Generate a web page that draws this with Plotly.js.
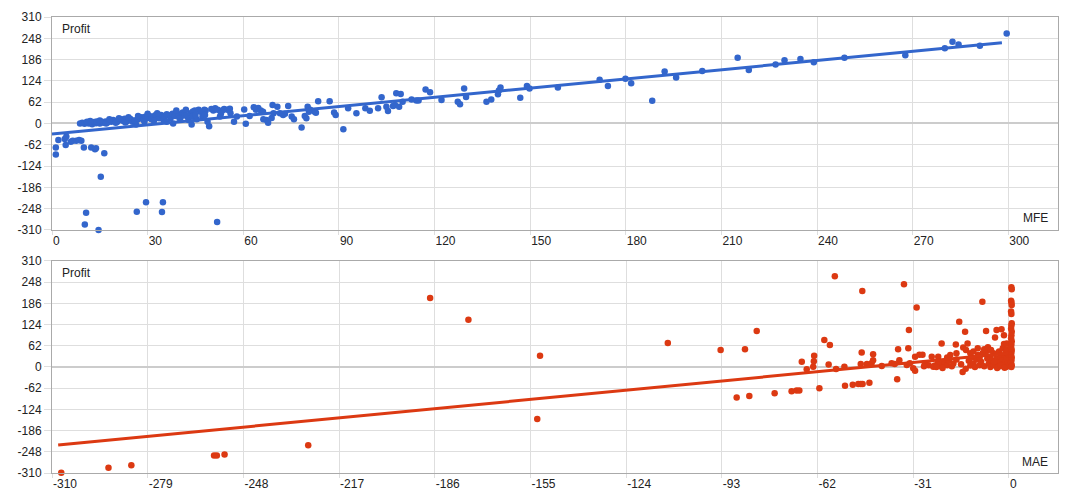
<!DOCTYPE html>
<html>
<head>
<meta charset="utf-8">
<script src="https://cdn.plot.ly/plotly-3.0.1.min.js"></script>
<style>
  html, body { margin: 0; padding: 0; background: #fff; }
  #chart { width: 1075px; height: 500px; }
</style>
</head>
<body>
<div id="chart"></div>
<script>
// MFE vs Profit (top panel)
var mfeValue = [
  1.2, 1.2, 2, 4, 4.5, 4.3, 5.9, 6.5, 7.6, 8.5, 9.2, 10, 12.3, 13.5, 13.8, 16.4, 15.3, 10.7, 10.3, 14.6,
  26.6, 29.5, 34.8, 34.5, 51.8,
  8.8, 9.5, 10.2, 10.8, 11.5, 12, 12.6, 13.2, 13.8, 14.5, 15, 15.6, 16.2, 16.8, 17.4, 18, 18.6, 19.2, 19.8, 20.4,
  21, 21.6, 22.2, 22.8, 23.4, 24, 24.6, 25.2, 25.8, 26.4, 27, 27.6, 28.2, 28.8, 29.4, 30, 30.6, 31.2, 31.8, 32.4,
  33, 33.6, 34.2, 34.8, 35.4, 36, 36.6, 37.2, 37.8, 38, 38.6, 39.2, 39.8, 40.4, 41, 41.6, 42.2, 42.8, 43.4, 43.8,
  44.2, 44.8, 45.4, 46, 46.6, 47.2, 47.8, 48.2, 48.8, 49.3, 50, 50.6, 51.2, 52, 52.7, 53.4, 54, 55, 55.8, 57.1,
  58, 60.3, 60.8,
  11, 14, 17, 20, 23, 26, 29, 32, 35, 36, 40, 44, 48, 53, 56, 45, 42, 39, 33, 30, 27, 24, 21, 18, 15, 12,
  62, 63.3, 64, 64.7, 65.5, 66.2, 66.3, 67.3, 67.8, 68.9, 69.2, 69.5, 70.7, 71.5, 72.5, 73.1, 74.1, 75.2, 75.9, 78.3,
  79.3, 79.8, 80.2, 80.6, 81, 82.4, 82.8, 83.5, 87.1, 88.5, 89, 91.4, 92.9, 95.5, 98.3, 99.7, 102.3, 103.4, 104.9, 105.4,
  107, 107.6, 108, 108.9, 109.4, 110, 112.8, 114.3, 115, 117.2, 118.6, 122.2, 127.3, 128, 129.3, 129.9, 136.3, 137.8, 139.9, 140.2,
  140.7, 146.9, 149, 149.8, 158.7, 171.8, 174.4, 179.9, 181.7, 188.3, 192.2, 195.8, 204, 215.1, 218.6, 227, 229.8, 234.8, 239, 248.6,
  267.7, 280.1, 282.5, 284.4, 291.1, 299.5
];
var mfeProfit = [
  -70, -90, -48, -45, -38, -63, -53, -50, -50, -48, -50, -70, -70, -75, -72, -87, -155, -260, -294, -310,
  -257, -229, -229, -258, -287,
  0, 2, -1, 3, 0, 2, -2, 4, 1, 3, 0, 5, 2, 6, 3, 8, 5, 10, 7, 4,
  10, 12, 8, 14, 6, 10, 13, 5, 9, -3, 12, 15, 18, 10, 20, 16, 22, 12, 20, 24,
  18, 15, 25, 22, 20, 27, 24, 15, 28, 0, 22, 30, 26, 18, 32, 28, 22, 10, 30, -3,
  35, 38, 12, 40, 34, 20, 40, 38, 5, -8, 42, 38, 44, 40, 20, 38, 42, 40, 43, 5,
  20, 41, -1,
  5, 6, 0, 2, 3, 8, 6, 8, 10, 5, 15, 20, 25, 28, 30, 25, 40, 38, 30, 28, 22, 18, 15, 12, 9, 7,
  22, 47, 40, 45, 38, 34, 12, 10, 2, 16, 54, 30, 49, 30, 25, 28, 51, 20, 12, -12,
  22, 15, 49, 34, 40, 34, 31, 65, 65, 32, 25, -17, 44, 30, 44, 37, 44, 76, 49, 36,
  51, 54, 88, 49, 86, 63, 70, 67, 67, 99, 91, 68, 63, 56, 102, 77, 63, 70, 85, 96,
  105, 75, 109, 102, 105, 127, 109, 130, 117, 66, 151, 134, 153, 191, 156, 172, 184, 188, 178, 191,
  199, 219, 238, 230, 226, 262
];
var mfeTrendX = [0, 298];
var mfeTrendY = [-31, 235];

// MAE vs Profit (bottom panel)
var maeValue = [
  -307, -291.7, -284.3, -257.5, -256.6, -254.1, -227, -187.5, -175.1, -151.9, -152.8, -110.5,
  -93.4, -88.2, -85.5, -84.1, -81.7, -75.9, -70.4, -68.8, -67.9, -67.1, -65.5, -63.4, -63.2, -63.1, -61.4, -59.8,
  -58, -58.4, -56.4, -56, -53.3, -53.1, -50.6, -48.8, -48, -47.4, -47.7, -47.5, -48, -45.2, -46, -44.5, -44, -44,
  -41.2, -38, -37, -36.2, -35.9, -35.5, -34, -33.1, -32.1, -32.6, -32.4, -31, -30.4, -30.4, -29.9, -29, -28, -27.2, -25,
  -22.9, -21.8, -22.5, -22, -21, -20, -19.5, -18.5, -18, -17.2, -17, -16.1, -15, -14.8, -14.2, -13.9, -13.4, -13,
  -12.5, -12, -11.5, -11, -10.5, -10.1, -10, -9.5, -9, -8.6, -8.5, -8, -7.4, -7.2, -7, -6.5, -6, -6, -5.5, -5, -5,
  -4.5, -4, -4, -3.5, -3.2, -3, -2.8, -2.4, -2.2, -2, -1.8, -1.6, -1.6, -1.5, -1.2, -1, -1, -0.8, -0.7, -0.5, -0.3, -0.2,
  -24, -23, -20, -19, -17, -15.5, -14, -12.5, -11.5, -9.5, -8, -6.8, -5.8, -4.8, -3.8, -2.6, -1.4, -0.6, -26, -27.5, -24.5, -23.5, -21.5,
  0.8, 0.9, 0.7, 0.8, 0.9, 0.7, 0.8, 0.9, 0.8, 0.7, 0.9, 0.8, 0.7, 0.9, 0.8, 0.7, 0.9, 0.8, 0.7, 0.9, 0.8, 0.7, 0.9, 0.8
];
var maeProfit = [
  -309, -295, -287, -259, -259, -256, -229, 202, 138, 33, -152, 70,
  50, -89, 52, -85, 105, -77, -71, -69, -69, 15, -7, 1, 17, 33, -62, 79,
  64, 7, 265, -6, 1, -55, -52, -50, -50, -50, 42, 222, 9, -46, 9, 11, 37, 20,
  3, 11, 9, -36, 52, 20, 242, 6, 11, 55, 108, -4, -11, 30, 174, 36, 36, 11, 30,
  30, 69, 8, 2, 14, 5, 20, 2, 10, 66, 22, 132, -15, 57, 103, 50, 69, 18,
  4, 28, 10, 0, 22, 55, 35, 5, 15, 191, 40, 2, 105, 47, 25, 10, 30, 0, 18, 40, 5,
  86, 108, 25, 12, 45, 2, 30, 110, 20, 55, 8, 67, 93, 35, 15, 45, 0, 25, 69, 10, 38, 3,
  4, 12, 28, 35, 40, 8, -5, 40, 45, 28, 52, 58, 50, 15, -3, 5, -2, 52, 5, 2, 1, 0, -3,
  233, 227, 194, 189, 181, 162, 155, 128, 121, 112, 103, 93, 84, 75, 66, 58, 50, 42, 35, 28, 20, 12, 5, 0
];
var maeTrendX = [-308, 0];
var maeTrendY = [-228, 40];

var profitTicks = [-310, -248, -186, -124, -62, 0, 62, 124, 186, 248, 310];
var profitTickText = ['-310', '-248', '-186', '-124', '-62', '0', '62', '124', '186', '248', '310'];
var mfeTicks = [0, 30, 60, 90, 120, 150, 180, 210, 240, 270, 300];
var mfeTickText = ['0', '30', '60', '90', '120', '150', '180', '210', '240', '270', '300'];
var maeTicks = [-310, -279, -248, -217, -186, -155, -124, -93, -62, -31, 0];
var maeTickText = ['-310', '-279', '-248', '-217', '-186', '-155', '-124', '-93', '-62', '-31', '0'];

var blue = '#3366cc';
var red = '#dc3912';
var gridColor = '#dedede';

var traces = [
  {
    x: mfeValue, y: mfeProfit, type: 'scatter', mode: 'markers',
    marker: {color: blue, size: 6.5}, cliponaxis: false,
    xaxis: 'x', yaxis: 'y', hoverinfo: 'none'
  },
  {
    x: mfeTrendX, y: mfeTrendY, type: 'scatter', mode: 'lines',
    line: {color: blue, width: 3}, xaxis: 'x', yaxis: 'y', hoverinfo: 'none'
  },
  {
    x: maeValue, y: maeProfit, type: 'scatter', mode: 'markers',
    marker: {color: red, size: 6.5}, cliponaxis: false,
    xaxis: 'x2', yaxis: 'y2', hoverinfo: 'none'
  },
  {
    x: maeTrendX, y: maeTrendY, type: 'scatter', mode: 'lines',
    line: {color: red, width: 3}, xaxis: 'x2', yaxis: 'y2', hoverinfo: 'none'
  }
];

function yAxis(domain, anchor) {
  return {
    domain: domain, anchor: anchor, range: [-310, 310],
    tickvals: profitTicks, ticktext: profitTickText,
    showgrid: true, gridcolor: gridColor, gridwidth: 1,
    zeroline: true, zerolinecolor: '#cccccc', zerolinewidth: 2,
    showline: true, linecolor: '#aaaaaa', linewidth: 1, mirror: true,
    ticks: 'outside', ticklen: 7, tickcolor: gridColor,
    tickfont: {size: 12, color: '#222'}
  };
}

function xAxis(range, vals, text, anchor) {
  return {
    range: range, anchor: anchor,
    tickvals: vals, ticktext: text,
    showgrid: true, gridcolor: gridColor, gridwidth: 1,
    zeroline: false,
    showline: true, linecolor: '#aaaaaa', linewidth: 1, mirror: true,
    ticks: 'outside', ticklen: 4, tickcolor: gridColor,
    ticklabelposition: 'outside right',
    tickfont: {size: 12, color: '#222'}
  };
}

var layout = {
  width: 1075, height: 500,
  margin: {l: 52, r: 17, t: 17, b: 27},
  paper_bgcolor: '#fff', plot_bgcolor: '#fff',
  font: {family: 'Arial, "Liberation Sans", sans-serif', size: 12, color: '#222'},
  showlegend: false,
  xaxis: xAxis([0, 315.6], mfeTicks, mfeTickText, 'y'),
  yaxis: yAxis([0.533, 1], 'x'),
  xaxis2: xAxis([-310, 15.9], maeTicks, maeTickText, 'y2'),
  yaxis2: yAxis([0, 0.465], 'x2'),
  annotations: [
    {text: 'Profit', xref: 'x domain', yref: 'y domain', x: 0.008, y: 0.945,
     xanchor: 'left', yanchor: 'middle', showarrow: false},
    {text: 'MFE', xref: 'x domain', yref: 'y domain', x: 0.992, y: 0.056,
     xanchor: 'right', yanchor: 'middle', showarrow: false},
    {text: 'Profit', xref: 'x2 domain', yref: 'y2 domain', x: 0.008, y: 0.943,
     xanchor: 'left', yanchor: 'middle', showarrow: false},
    {text: 'MAE', xref: 'x2 domain', yref: 'y2 domain', x: 0.992, y: 0.052,
     xanchor: 'right', yanchor: 'middle', showarrow: false}
  ]
};

Plotly.newPlot('chart', traces, layout, {displayModeBar: false, staticPlot: true});
</script>
</body>
</html>
